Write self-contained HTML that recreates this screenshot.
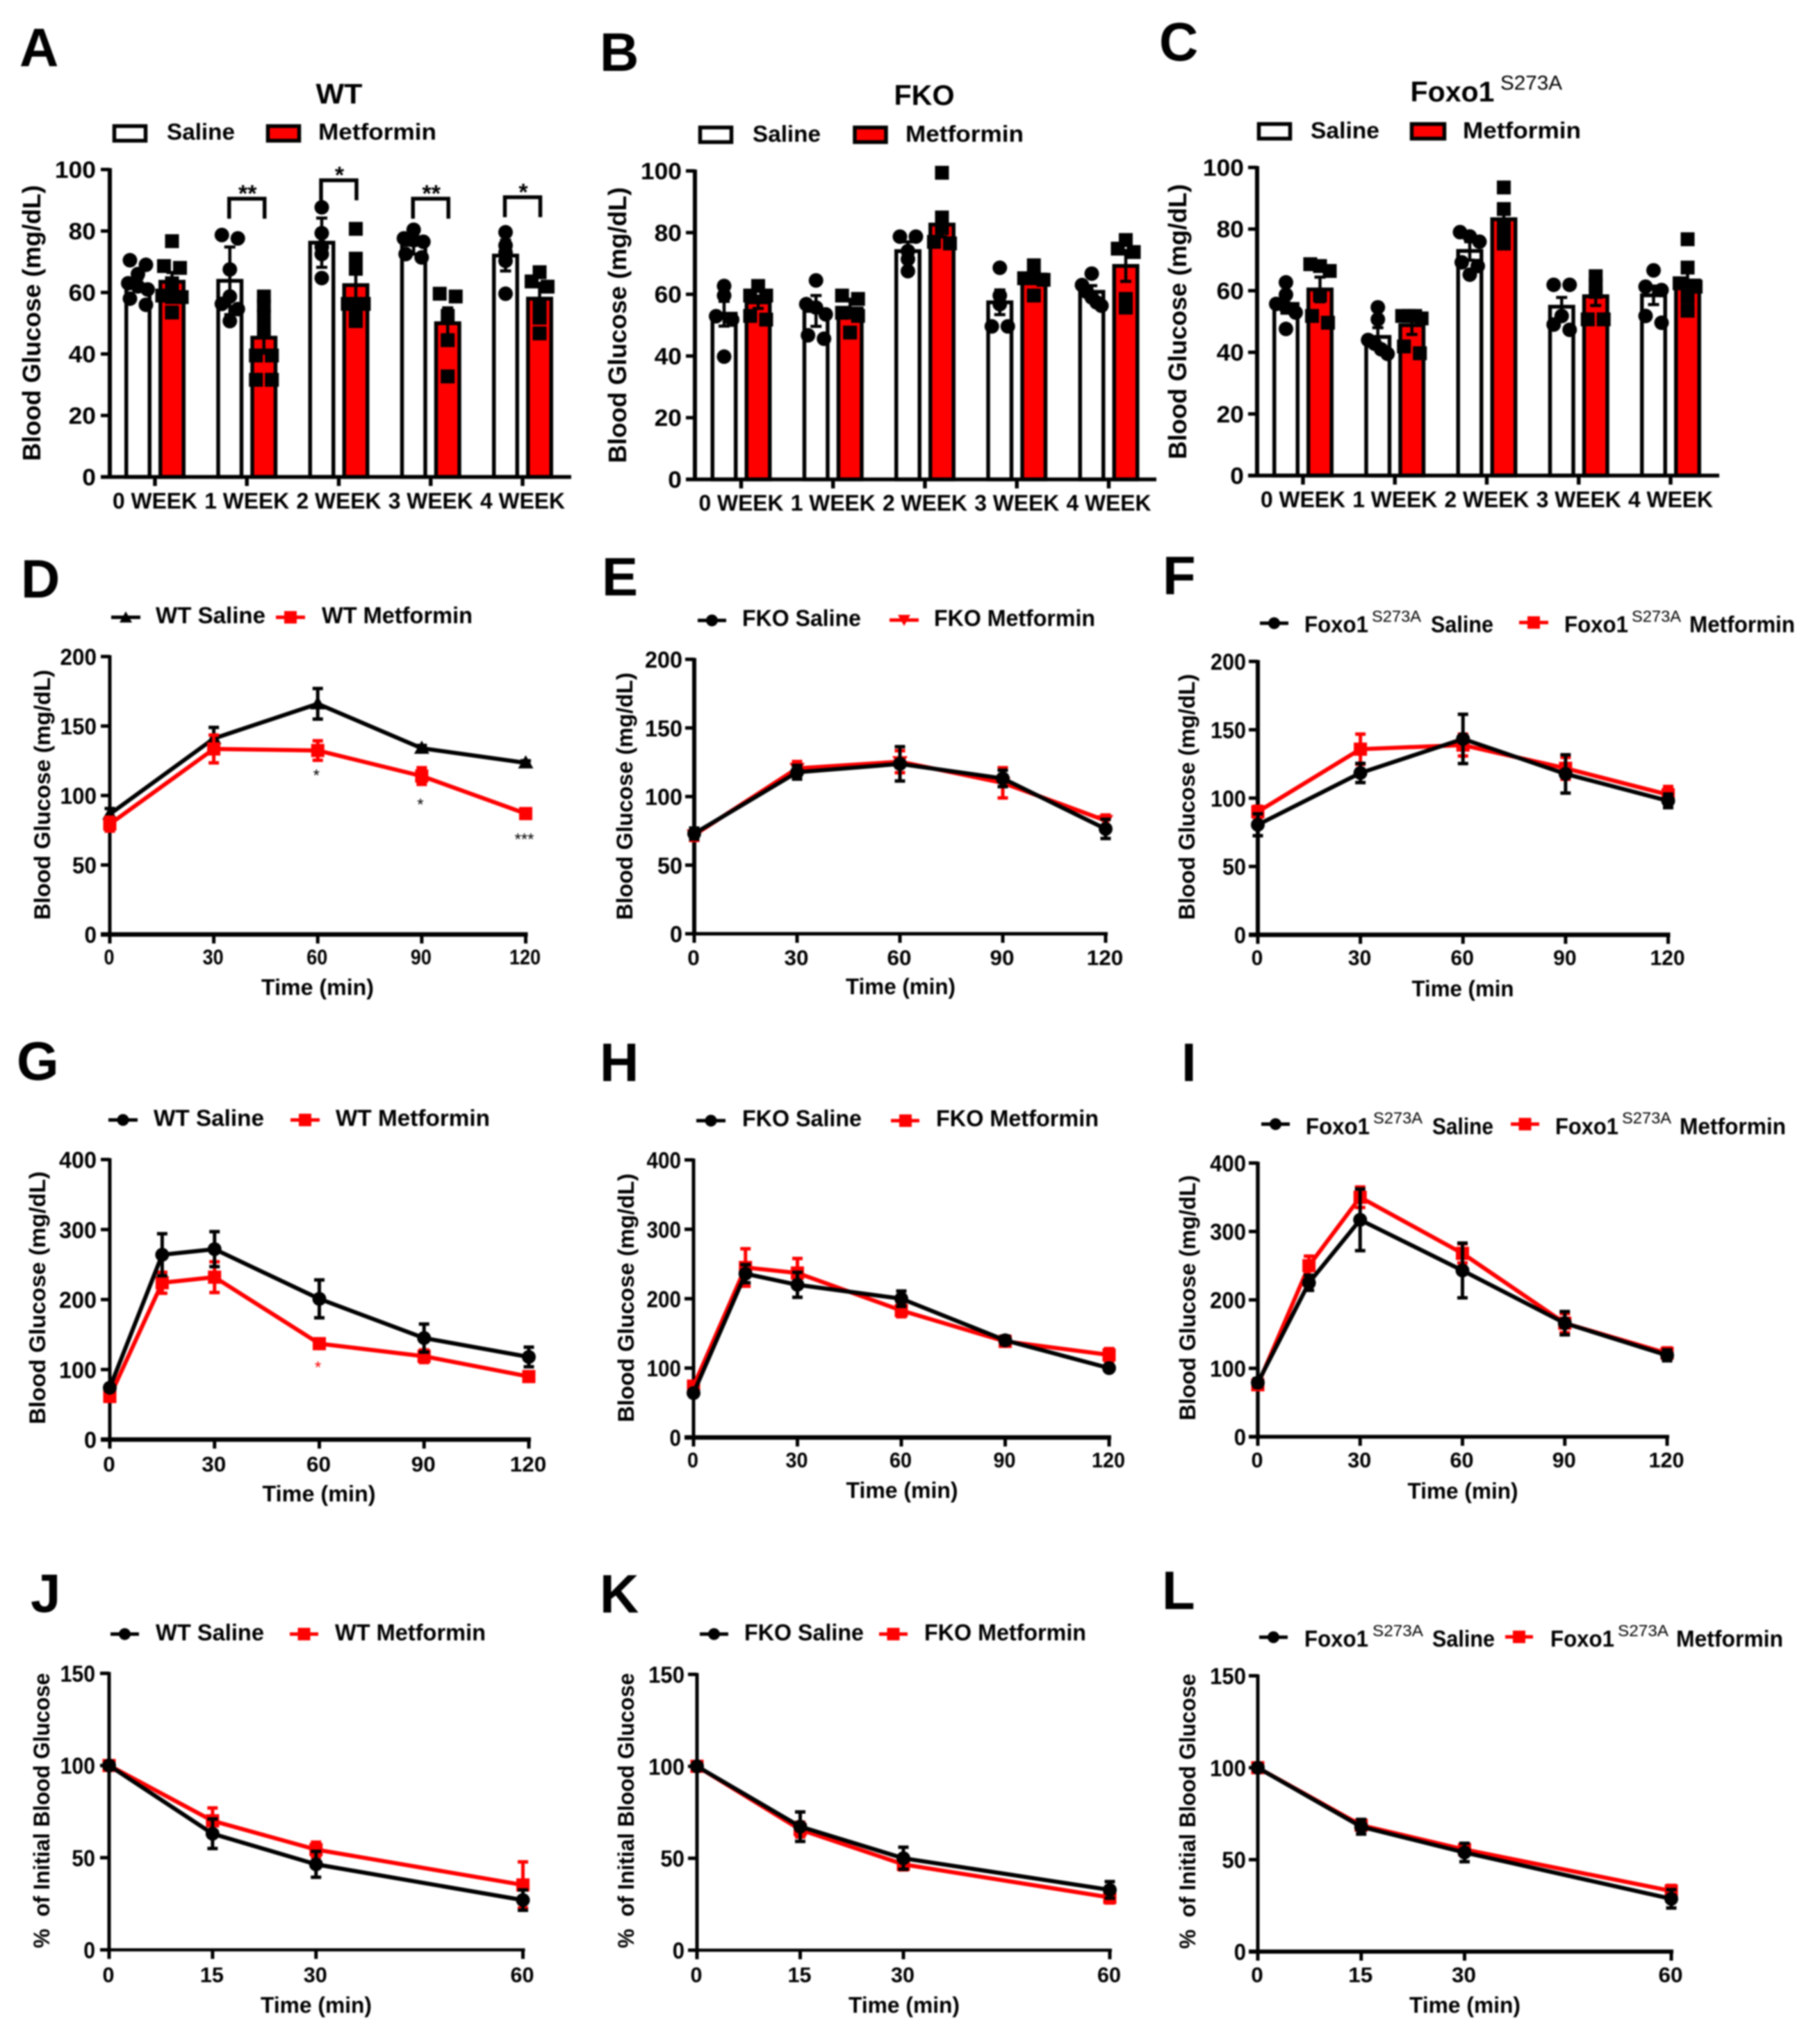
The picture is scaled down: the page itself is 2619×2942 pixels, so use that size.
<!DOCTYPE html>
<html lang="en">
<head>
<meta charset="utf-8">
<title>Blood glucose panels</title>
<style>
html,body{margin:0;padding:0;background:#fff}
svg{display:block;filter:blur(1px)}
text{font-family:"Liberation Sans",sans-serif;fill:#000}
.letter{font-size:78px;font-weight:700}
.title{font-size:41px;font-weight:700;text-anchor:middle}
.lg{font-size:33px;font-weight:700}
.sup{font-size:23px;font-weight:400}
.tsup{font-size:29px;font-weight:400}
.axt{font-size:32px;font-weight:700;text-anchor:middle;white-space:pre}
.axb{font-size:36px}
</style>
</head>
<body>
<svg id="figure" width="2619" height="2942" viewBox="0 0 2619 2942">
<rect x="0" y="0" width="2619" height="2942" fill="#fff"/>

<!-- Panel A -->
<g>
<text class="letter" x="28" y="95">A</text>
<text class="title" x="488" y="149" textLength="67" lengthAdjust="spacingAndGlyphs">WT</text>
<g><rect x="164.5" y="181.5" width="45" height="21" fill="#fff" stroke="#000" stroke-width="5.5"/><text class="lg" x="240" y="201" textLength="98" lengthAdjust="spacingAndGlyphs">Saline</text></g>
<g><rect x="385.5" y="181.5" width="45" height="21" fill="#f00" stroke="#000" stroke-width="5.5"/><text class="lg" x="458" y="201" textLength="170" lengthAdjust="spacingAndGlyphs">Metformin</text></g>
<text class="axt axb" transform="rotate(-90 58 465)" x="58" y="465" textLength="397" lengthAdjust="spacingAndGlyphs">Blood Glucose (mg/dL)</text>
<g id="plot-a"></g>
</g>

<!-- Panel B -->
<g>
<text class="letter" x="863" y="102">B</text>
<text class="title" x="1330" y="151" textLength="87" lengthAdjust="spacingAndGlyphs">FKO</text>
<g><rect x="1007.5" y="183.5" width="45" height="21" fill="#fff" stroke="#000" stroke-width="5.5"/><text class="lg" x="1083" y="204" textLength="98" lengthAdjust="spacingAndGlyphs">Saline</text></g>
<g><rect x="1230" y="183.5" width="45" height="21" fill="#f00" stroke="#000" stroke-width="5.5"/><text class="lg" x="1303" y="204" textLength="170" lengthAdjust="spacingAndGlyphs">Metformin</text></g>
<text class="axt axb" transform="rotate(-90 901 468)" x="901" y="468" textLength="397" lengthAdjust="spacingAndGlyphs">Blood Glucose (mg/dL)</text>
<g id="plot-b"></g>
</g>

<!-- Panel C -->
<g>
<text class="letter" x="1668" y="87">C</text>
<text class="title" x="2090" y="146" textLength="121" lengthAdjust="spacingAndGlyphs">Foxo1</text>
<text class="tsup" x="2159" y="129" textLength="89" lengthAdjust="spacingAndGlyphs">S273A</text>
<g><rect x="1811.5" y="178.5" width="45" height="21" fill="#fff" stroke="#000" stroke-width="5.5"/><text class="lg" x="1886" y="199" textLength="99" lengthAdjust="spacingAndGlyphs">Saline</text></g>
<g><rect x="2031.5" y="178.5" width="47" height="21" fill="#f00" stroke="#000" stroke-width="5.5"/><text class="lg" x="2105" y="199" textLength="170" lengthAdjust="spacingAndGlyphs">Metformin</text></g>
<text class="axt axb" transform="rotate(-90 1707 463)" x="1707" y="463" textLength="396" lengthAdjust="spacingAndGlyphs">Blood Glucose (mg/dL)</text>
<g id="plot-c"></g>
</g>

<!-- Panel D -->
<g>
<text class="letter" x="30" y="860">D</text>
<g><line x1="160" y1="888.5" x2="202" y2="888.5" stroke="#000" stroke-width="5"/><polygon points="181,880 190,896 172,896" fill="#000"/><text class="lg" x="224" y="897" textLength="158" lengthAdjust="spacingAndGlyphs">WT Saline</text></g>
<g><line x1="397" y1="888.5" x2="439" y2="888.5" stroke="#f00" stroke-width="5"/><rect x="409" y="879.5" width="18" height="18" fill="#f00"/><text class="lg" x="463" y="897" textLength="217" lengthAdjust="spacingAndGlyphs">WT Metformin</text></g>
<text class="axt" transform="rotate(-90 72 1144)" x="72" y="1144" textLength="360" lengthAdjust="spacingAndGlyphs">Blood Glucose (mg/dL)</text>
<text class="axt" x="457" y="1432" textLength="162" lengthAdjust="spacingAndGlyphs">Time (min)</text>
<g id="plot-d"></g>
</g>

<!-- Panel E -->
<g>
<text class="letter" x="866" y="857">E</text>
<g><line x1="1004" y1="893" x2="1045" y2="893" stroke="#000" stroke-width="5"/><circle cx="1024.5" cy="893" r="8.5" fill="#000"/><text class="lg" x="1068" y="901" textLength="171" lengthAdjust="spacingAndGlyphs">FKO Saline</text></g>
<g><line x1="1280" y1="892.5" x2="1322" y2="892.5" stroke="#f00" stroke-width="5"/><polygon points="1292,885 1310,885 1301,901" fill="#f00"/><text class="lg" x="1344" y="901" textLength="232" lengthAdjust="spacingAndGlyphs">FKO Metformin</text></g>
<text class="axt" transform="rotate(-90 910 1146)" x="910" y="1146" textLength="356" lengthAdjust="spacingAndGlyphs">Blood Glucose (mg/dL)</text>
<text class="axt" x="1296" y="1431" textLength="158" lengthAdjust="spacingAndGlyphs">Time (min)</text>
<g id="plot-e"></g>
</g>

<!-- Panel F -->
<g>
<text class="letter" x="1673" y="855">F</text>
<g><line x1="1813" y1="897" x2="1854" y2="897" stroke="#000" stroke-width="5"/><circle cx="1833.5" cy="897" r="8.5" fill="#000"/><text class="lg" x="1877" y="910" textLength="92" lengthAdjust="spacingAndGlyphs">Foxo1</text><text class="sup" x="1974" y="895" textLength="71" lengthAdjust="spacingAndGlyphs">S273A</text><text class="lg" x="2059" y="910" textLength="90" lengthAdjust="spacingAndGlyphs">Saline</text></g>
<g><line x1="2186" y1="896" x2="2228" y2="896" stroke="#f00" stroke-width="5"/><rect x="2198" y="887" width="18" height="18" fill="#f00"/><text class="lg" x="2251" y="910" textLength="92" lengthAdjust="spacingAndGlyphs">Foxo1</text><text class="sup" x="2348" y="895" textLength="71" lengthAdjust="spacingAndGlyphs">S273A</text><text class="lg" x="2431" y="910" textLength="152" lengthAdjust="spacingAndGlyphs">Metformin</text></g>
<text class="axt" transform="rotate(-90 1719 1147)" x="1719" y="1147" textLength="354" lengthAdjust="spacingAndGlyphs">Blood Glucose (mg/dL)</text>
<text class="axt" x="2105" y="1434" textLength="147" lengthAdjust="spacingAndGlyphs">Time (min</text>
<g id="plot-f"></g>
</g>

<!-- Panel G -->
<g>
<text class="letter" x="24" y="1554">G</text>
<g><line x1="156" y1="1612" x2="198" y2="1612" stroke="#000" stroke-width="5"/><circle cx="177" cy="1612" r="8.5" fill="#000"/><text class="lg" x="221" y="1620.5" textLength="159" lengthAdjust="spacingAndGlyphs">WT Saline</text></g>
<g><line x1="418" y1="1612" x2="460" y2="1612" stroke="#f00" stroke-width="5"/><rect x="430" y="1603" width="18" height="18" fill="#f00"/><text class="lg" x="483" y="1620.5" textLength="222" lengthAdjust="spacingAndGlyphs">WT Metformin</text></g>
<text class="axt" transform="rotate(-90 65 1868)" x="65" y="1868" textLength="364" lengthAdjust="spacingAndGlyphs">Blood Glucose (mg/dL)</text>
<text class="axt" x="459" y="2161" textLength="163" lengthAdjust="spacingAndGlyphs">Time (min)</text>
<g id="plot-g"></g>
</g>

<!-- Panel H -->
<g>
<text class="letter" x="863" y="1556">H</text>
<g><line x1="1002" y1="1613" x2="1044" y2="1613" stroke="#000" stroke-width="5"/><circle cx="1023" cy="1613" r="8.5" fill="#000"/><text class="lg" x="1068" y="1621" textLength="172" lengthAdjust="spacingAndGlyphs">FKO Saline</text></g>
<g><line x1="1282" y1="1613" x2="1323" y2="1613" stroke="#f00" stroke-width="5"/><rect x="1294" y="1604" width="18" height="18" fill="#f00"/><text class="lg" x="1347" y="1621" textLength="234" lengthAdjust="spacingAndGlyphs">FKO Metformin</text></g>
<text class="axt" transform="rotate(-90 912 1868)" x="912" y="1868" textLength="358" lengthAdjust="spacingAndGlyphs">Blood Glucose (mg/dL)</text>
<text class="axt" x="1298" y="2156" textLength="161" lengthAdjust="spacingAndGlyphs">Time (min)</text>
<g id="plot-h"></g>
</g>

<!-- Panel I -->
<g>
<text class="letter" x="1700" y="1556">I</text>
<g><line x1="1815" y1="1618" x2="1856" y2="1618" stroke="#000" stroke-width="5"/><circle cx="1835.5" cy="1618" r="8.5" fill="#000"/><text class="lg" x="1879" y="1632.5" textLength="92" lengthAdjust="spacingAndGlyphs">Foxo1</text><text class="sup" x="1976" y="1617" textLength="71" lengthAdjust="spacingAndGlyphs">S273A</text><text class="lg" x="2061" y="1632.5" textLength="88" lengthAdjust="spacingAndGlyphs">Saline</text></g>
<g><line x1="2174" y1="1618" x2="2215" y2="1618" stroke="#f00" stroke-width="5"/><rect x="2185.5" y="1609" width="18" height="18" fill="#f00"/><text class="lg" x="2238" y="1632.5" textLength="91" lengthAdjust="spacingAndGlyphs">Foxo1</text><text class="sup" x="2334" y="1617" textLength="71" lengthAdjust="spacingAndGlyphs">S273A</text><text class="lg" x="2417" y="1632.5" textLength="153" lengthAdjust="spacingAndGlyphs">Metformin</text></g>
<text class="axt" transform="rotate(-90 1720 1868)" x="1720" y="1868" textLength="353" lengthAdjust="spacingAndGlyphs">Blood Glucose (mg/dL)</text>
<text class="axt" x="2105" y="2157" textLength="159" lengthAdjust="spacingAndGlyphs">Time (min)</text>
<g id="plot-i"></g>
</g>

<!-- Panel J -->
<g>
<text class="letter" x="44" y="2320">J</text>
<g><line x1="159" y1="2352" x2="200" y2="2352" stroke="#000" stroke-width="5"/><circle cx="179.5" cy="2352" r="8.5" fill="#000"/><text class="lg" x="224" y="2361" textLength="156" lengthAdjust="spacingAndGlyphs">WT Saline</text></g>
<g><line x1="417" y1="2352" x2="458" y2="2352" stroke="#f00" stroke-width="5"/><rect x="428.5" y="2343" width="18" height="18" fill="#f00"/><text class="lg" x="482" y="2361" textLength="217" lengthAdjust="spacingAndGlyphs">WT Metformin</text></g>
<text class="axt" transform="rotate(-90 71 2606)" x="71" y="2606" textLength="396" lengthAdjust="spacingAndGlyphs">%  of Initial Blood Glucose</text>
<text class="axt" x="455" y="2897" textLength="160" lengthAdjust="spacingAndGlyphs">Time (min)</text>
<g id="plot-j"></g>
</g>

<!-- Panel K -->
<g>
<text class="letter" x="863" y="2321">K</text>
<g><line x1="1007" y1="2352" x2="1048" y2="2352" stroke="#000" stroke-width="5"/><circle cx="1027.5" cy="2352" r="8.5" fill="#000"/><text class="lg" x="1071" y="2361" textLength="172" lengthAdjust="spacingAndGlyphs">FKO Saline</text></g>
<g><line x1="1265" y1="2352" x2="1306" y2="2352" stroke="#f00" stroke-width="5"/><rect x="1276.5" y="2343" width="18" height="18" fill="#f00"/><text class="lg" x="1330" y="2361" textLength="233" lengthAdjust="spacingAndGlyphs">FKO Metformin</text></g>
<text class="axt" transform="rotate(-90 912 2606)" x="912" y="2606" textLength="396" lengthAdjust="spacingAndGlyphs">%  of Initial Blood Glucose</text>
<text class="axt" x="1301" y="2897" textLength="160" lengthAdjust="spacingAndGlyphs">Time (min)</text>
<g id="plot-k"></g>
</g>

<!-- Panel L -->
<g>
<text class="letter" x="1672" y="2316">L</text>
<g><line x1="1812" y1="2356.5" x2="1853" y2="2356.5" stroke="#000" stroke-width="5"/><circle cx="1832.5" cy="2356.5" r="8.5" fill="#000"/><text class="lg" x="1877" y="2370" textLength="92" lengthAdjust="spacingAndGlyphs">Foxo1</text><text class="sup" x="1975" y="2355" textLength="73" lengthAdjust="spacingAndGlyphs">S273A</text><text class="lg" x="2061" y="2370" textLength="90" lengthAdjust="spacingAndGlyphs">Saline</text></g>
<g><line x1="2166" y1="2356" x2="2206" y2="2356" stroke="#f00" stroke-width="5"/><rect x="2177" y="2347" width="18" height="18" fill="#f00"/><text class="lg" x="2231" y="2370" textLength="92" lengthAdjust="spacingAndGlyphs">Foxo1</text><text class="sup" x="2328" y="2355" textLength="73" lengthAdjust="spacingAndGlyphs">S273A</text><text class="lg" x="2412" y="2370" textLength="154" lengthAdjust="spacingAndGlyphs">Metformin</text></g>
<text class="axt" transform="rotate(-90 1720 2607)" x="1720" y="2607" textLength="396" lengthAdjust="spacingAndGlyphs">%  of Initial Blood Glucose</text>
<text class="axt" x="2108" y="2897" textLength="160" lengthAdjust="spacingAndGlyphs">Time (min)</text>
<g id="plot-l"></g>
</g>
</svg>

<script>
/* ---------- shared axis data ---------- */
const weekLabels = ['0 WEEK', '1 WEEK', '2 WEEK', '3 WEEK', '4 WEEK'];
const barYTicks = [0, 20, 40, 60, 80, 100];
const gttYTicks = [0, 50, 100, 150, 200];
const ogttYTicks = [0, 100, 200, 300, 400];
const ittYTicks = [0, 50, 100, 150];
const gttTimes = [0, 30, 60, 90, 120];
const ogttTimes = [0, 15, 30, 60, 90, 120];
const ogttXTicks = [0, 30, 60, 90, 120];
const ittTimes = [0, 15, 30, 60];

/* ---------- panel A ---------- */
const aSalineMeans = [62.5, 63.8, 76.2, 75.5, 72];
const aSalineErr = [2, 11, 8, 3, 5];
const aSalinePoints = [
  [62, 56, 61, 66, 70.5, 69, 63, 58],
  [58.7, 78.7, 77.6, 67.5, 56.3, 54.6, 50.7],
  [87.7, 79.3, 74.8, 72.5, 64.7],
  [80.4, 77.6, 77, 76.5, 72.5, 71.4],
  [79.6, 75.3, 73, 70.3, 59.6]
];
const aMetforminMeans = [63.5, 45.3, 62.4, 50, 58];
const aMetforminErr = [3, 5, 8, 5, 5];
const aMetforminPoints = [
  [76.7, 68.6, 68, 63, 59, 58.5, 58.5, 53.5],
  [58.7, 55.7, 52.4, 47.9, 39.5, 39.5, 31.6, 31.6],
  [80.7, 71, 67.7, 56.3, 56.3, 54, 50.7],
  [59.6, 58.7, 52.4, 44.5, 32.7],
  [66.6, 63.6, 61.9, 55.7, 51.8, 46.7]
];
const aBracketTops = [null, 90.5, 96.5, 90.5, 91];
const aSigLabels = ['', '**', '*', '**', '*'];

/* ---------- panel B ---------- */
const bSalineMeans = [53.7, 54.6, 74, 57.4, 60.8];
const bSalineErr = [4, 5, 3, 4, 2];
const bSalinePoints = [
  [62.7, 59.6, 52.9, 51.8, 39.8],
  [64.5, 56.8, 55.7, 53.5, 46.7, 45.6],
  [78.7, 78.7, 74, 71.4, 67.5],
  [68.6, 59.6, 56.8, 49.6, 49.6],
  [66.7, 63, 60.8, 59, 57.4, 56.3]
];
const bMetforminMeans = [57.4, 55.4, 82.6, 66.4, 69.2];
const bMetforminErr = [2, 3, 4, 2, 5];
const bMetforminPoints = [
  [62.7, 59.6, 59.6, 53, 51.8],
  [59.6, 58.5, 54, 53, 47.6],
  [99.4, 84.9, 81.5, 77, 76.5],
  [69.4, 65.2, 65.2, 64.7, 59.6],
  [77.6, 74.8, 73.7, 58.5, 55.7]
];

/* ---------- panel C ---------- */
const cSalineMeans = [55.7, 45, 72.9, 54.8, 58.5];
const cSalineErr = [3, 3, 3, 3, 3];
const cSalinePoints = [
  [62.7, 58.7, 55.7, 54.6, 52.9, 47.6],
  [54.6, 50.7, 44, 42.8, 41, 39.5],
  [79, 77.6, 75.9, 69.2, 68, 65.2],
  [61.9, 61.9, 51.8, 49, 47.3],
  [66.6, 61.3, 60.2, 51.8, 49.6]
];
const cMetforminMeans = [60.4, 48.8, 83.2, 58.2, 63.3];
const cMetforminErr = [4, 3, 3, 3, 4];
const cMetforminPoints = [
  [68.6, 68, 66.4, 58.5, 51.8, 49.6],
  [51.8, 51.8, 51.8, 51, 41.9, 39.7],
  [93.5, 86.5, 81, 78.1, 75.3],
  [64.7, 61.9, 59.6, 50.7, 50.7],
  [76.7, 67.5, 62.4, 61.3, 58, 53.5]
];

/* ---------- panels D, E, F ---------- */
const dSaline = [86.6, 141, 166, 134, 123.5];
const dSalineErr = [4, 8, 11, 2, 1.5];
const dMetformin = [79.4, 133.5, 132.4, 114, 87];
const dMetforminErr = [5, 10, 7, 6, 3];
const dSigLabels = ['', '', '*', '*', '***'];
const dSigValues = [null, null, 117, 96, 71];

const eSaline = [73, 117.7, 123.8, 113.2, 76.4];
const eSalineErr = [4, 5, 12.5, 6, 7];
const eMetformin = [72, 120.5, 125.4, 110, 82.5];
const eMetforminErr = [4, 5, 8, 11, 4];

const fSaline = [80.5, 118.4, 143.3, 117.7, 98];
const fSalineErr = [8, 7, 18, 14, 5];
const fMetformin = [90, 135.8, 138.8, 121.8, 102.5];
const fMetforminErr = [4, 11, 8, 8, 6];

/* ---------- panels G, H, I ---------- */
const gSaline = [74, 264, 272, 201, 145, 118];
const gSaline_Err = [4, 30, 25, 27, 20, 14];
const gMetformin = [61.5, 224, 232, 137, 119, 90];
const gMetforminErr = [4, 15, 22, 6, 9, 6];
const gSigLabels = ['', '', '', '*', '', ''];
const gSigValues = [null, null, null, 108, null, null];

const hSaline = [64, 236, 220, 200, 140, 100];
const hSalineErr = [4, 13, 18, 11, 6, 4];
const hMetformin = [74, 245, 237, 183, 138.5, 119];
const hMetforminErr = [5, 27, 21, 9, 7, 9];

const iSaline = [79, 225, 317, 243, 166, 119];
const iSalineErr = [6, 11, 45, 40, 17, 8];
const iMetformin = [76, 250, 350, 268, 166, 122];
const iMetforminErr = [6, 14, 15, 14, 14, 8];

/* ---------- panels J, K, L ---------- */
const jSaline = [100, 63, 46.4, 27];
const jSalineErr = [1, 8, 7, 5.5];
const jMetformin = [100, 70, 54.4, 35.2];
const jMetforminErr = [1, 7, 4, 12.5];

const kSaline = [100, 67.2, 50, 32.8];
const kSalineErr = [1, 8, 6, 4.5];
const kMetformin = [100, 65.6, 46.7, 28.7];
const kMetforminErr = [1, 4, 3, 3];

const lSaline = [100, 67.9, 53.9, 28.7];
const lSalineErr = [1, 4, 5, 5];
const lMetformin = [100, 68.7, 55.5, 33];
const lMetforminErr = [1, 2, 3, 3];

/* ---------- helpers ---------- */
const svgRoot = document.getElementById('figure');
const NS = svgRoot.namespaceURI;

function mk(parent, tag, attrs, text) {
  const node = document.createElementNS(NS, tag);
  for (const key in attrs) node.setAttribute(key, attrs[key]);
  if (text !== undefined) node.textContent = text;
  parent.appendChild(node);
  return node;
}
function linearScale(d0, d1, r0, r1) {
  return function (v) { return r0 + (v - d0) * (r1 - r0) / (d1 - d0); };
}
function linePath(x1, y1, x2, y2) {
  return 'M' + x1 + ' ' + y1 + 'L' + x2 + ' ' + y2;
}
function errorPath(x, yLo, yHi, capHalf) {
  return linePath(x, yLo, x, yHi) + linePath(x - capHalf, yLo, x + capHalf, yLo) + linePath(x - capHalf, yHi, x + capHalf, yHi);
}
/* Prism-style scatter: points close in value are spread symmetrically around the bar centre */
function swarmOffsets(values, sy) {
  const order = values.map(function (v, i) { return i; }).sort(function (a, b) { return values[b] - values[a]; });
  const offsets = values.map(function () { return 0; });
  let cluster = [];
  function flush() {
    const n = cluster.length;
    if (n > 1) {
      const spacing = n === 2 ? 23 : 28 / (n - 1);
      cluster.forEach(function (idx, k) { offsets[idx] = (k - (n - 1) / 2) * spacing; });
    }
    cluster = [];
  }
  order.forEach(function (idx) {
    if (cluster.length && Math.abs(sy(values[idx]) - sy(values[cluster[cluster.length - 1]])) > 10) flush();
    cluster.push(idx);
  });
  flush();
  return offsets;
}

function drawYAxis(plot, cfg, sy, ticks) {
  const axis = mk(plot, 'line', { x1: cfg.axisX, y1: sy(cfg.yMax) - 2, x2: cfg.axisX, y2: cfg.y0 + 2, stroke: '#000', 'stroke-width': cfg.leftW });
  
  
  ticks.forEach(function (t) {
    const y = sy(t);
    const tick = mk(plot, 'line', { x1: cfg.axisX - 13, y1: y, x2: cfg.axisX, y2: y, stroke: '#000', 'stroke-width': 5 });
    
    
    const label = mk(plot, 'text', { x: cfg.axisX + cfg.yLabelDx, y: y + 12, 'text-anchor': 'end', 'font-size': cfg.yFont || 33, 'font-weight': 700, textLength: String(t).length * cfg.yCharW, lengthAdjust: 'spacingAndGlyphs' }, String(t));
    
    
  });
}

/* ---------- bar panels ---------- */
function drawBarPanel(id, cfg, salMeans, salErr, salPts, metMeans, metErr, metPts, brackets, sigs) {
  const plot = document.getElementById(id);
  const sy = linearScale(0, cfg.yMax, cfg.y0, cfg.yTop);
  const sx = function (i) { return cfg.tick0 + i * cfg.tickStep; };
  const halfGap = 24.5;
  const barW = 33.5;

  function drawGroup(i, cx, mean, err, pts, isMet) {
    const top = sy(mean);
    const bar = mk(plot, 'rect', { x: cx - barW / 2, y: top, width: barW, height: cfg.y0 - top, fill: isMet ? '#f00' : '#fff', stroke: '#000', 'stroke-width': 5.5 });
    
    
    const eb = mk(plot, 'path', { d: errorPath(cx, sy(mean - err), sy(mean + err), 8), stroke: '#000', 'stroke-width': 4.5, fill: 'none' });
    
    
    const offsets = swarmOffsets(pts, sy);
    pts.forEach(function (v, k) {
      const px = cx + offsets[k];
      const py = sy(v);
      const dot = isMet
        ? mk(plot, 'rect', { x: px - 10, y: py - 10, width: 20, height: 20, fill: '#000' })
        : mk(plot, 'circle', { cx: px, cy: py, r: 10.5, fill: '#000' });
      
      
    });
  }

  weekLabels.forEach(function (w, i) {
    drawGroup(i, sx(i) - halfGap, salMeans[i], salErr[i], salPts[i], false);
    drawGroup(i, sx(i) + halfGap, metMeans[i], metErr[i], metPts[i], true);
  });

  drawYAxis(plot, cfg, sy, barYTicks);

  const base = mk(plot, 'line', { x1: cfg.left, y1: cfg.y0, x2: cfg.right, y2: cfg.y0, stroke: '#000', 'stroke-width': 5.5 });
  
  

  weekLabels.forEach(function (w, i) {
    const tick = mk(plot, 'line', { x1: sx(i), y1: cfg.y0, x2: sx(i), y2: cfg.y0 + 13, stroke: '#000', 'stroke-width': 5.5 });
    
    
    const label = mk(plot, 'text', { x: sx(i), y: cfg.labelY, 'text-anchor': 'middle', 'font-size': 32, 'font-weight': 700, textLength: 122, lengthAdjust: 'spacingAndGlyphs' }, w);
    
    
  });

  if (brackets) {
    brackets.forEach(function (b, i) {
      if (b === null) return;
      const topY = sy(b);
      const legY = sy(b - 6.5);
      const xl = sx(i) - halfGap - 1;
      const xr = sx(i) + halfGap + 1;
      const br = mk(plot, 'path', { d: 'M' + xl + ' ' + legY + 'V' + topY + 'H' + xr + 'V' + legY, fill: 'none', stroke: '#000', 'stroke-width': 5.5 });
      
      
      const star = mk(plot, 'text', { x: sx(i) + 1, y: topY + 4, 'text-anchor': 'middle', 'font-size': 34, 'font-weight': 700 }, sigs[i]);
      
      
    });
  }
}

/* ---------- line panels ---------- */
function drawSeries(plot, sx, sy, times, vals, errs, color, shape) {
  const pts = times.map(function (t, i) { return sx(t) + ',' + sy(vals[i]); }).join(' ');
  times.forEach(function (t, i) {
    const eb = mk(plot, 'path', { d: errorPath(sx(t), sy(vals[i] - errs[i]), sy(vals[i] + errs[i]), 7.5), stroke: color, 'stroke-width': 5, fill: 'none' });
    
    
  });
  const line = mk(plot, 'polyline', { points: pts, fill: 'none', stroke: color, 'stroke-width': 6, 'stroke-linejoin': 'round' });
  
  
  times.forEach(function (t, i) {
    const x = sx(t);
    const y = sy(vals[i]);
    let marker;
    if (shape === 'circle') {
      marker = mk(plot, 'circle', { cx: x, cy: y, r: 10, fill: color });
    } else if (shape === 'square') {
      marker = mk(plot, 'rect', { x: x - 9.5, y: y - 9.5, width: 19, height: 19, fill: color });
    } else if (shape === 'tri') {
      marker = mk(plot, 'polygon', { points: (x) + ',' + (y - 11) + ' ' + (x + 11) + ',' + (y + 8) + ' ' + (x - 11) + ',' + (y + 8), fill: color });
    } else {
      marker = mk(plot, 'polygon', { points: (x - 11) + ',' + (y - 8) + ' ' + (x + 11) + ',' + (y - 8) + ' ' + (x) + ',' + (y + 11), fill: color });
    }
    
    
  });
}

function drawLinePanel(id, cfg, times, xTicks, yTicks, salVals, salErrs, metVals, metErrs, sigLabels, sigValues) {
  const plot = document.getElementById(id);
  const sx = linearScale(0, cfg.xMax, cfg.axisX, cfg.xEnd);
  const sy = linearScale(0, cfg.yMax, cfg.y0, cfg.yTop);

  drawYAxis(plot, cfg, sy, yTicks);

  const base = mk(plot, 'line', { x1: cfg.axisX - 13, y1: cfg.y0, x2: cfg.xEnd + 3, y2: cfg.y0, stroke: '#000', 'stroke-width': cfg.bottomW });
  
  

  xTicks.forEach(function (t) {
    const tick = mk(plot, 'line', { x1: sx(t), y1: cfg.y0, x2: sx(t), y2: cfg.y0 + 13, stroke: '#000', 'stroke-width': 5 });
    
    
    const label = mk(plot, 'text', { x: sx(t) - 1, y: cfg.tickY, 'text-anchor': 'middle', 'font-size': 31, 'font-weight': 700, textLength: String(t).length * cfg.xCharW, lengthAdjust: 'spacingAndGlyphs' }, String(t));
    
    
  });

  if (cfg.redOnTop) {
    drawSeries(plot, sx, sy, times, salVals, salErrs, '#000', cfg.salineShape);
    drawSeries(plot, sx, sy, times, metVals, metErrs, '#f00', cfg.metShape);
  } else {
    drawSeries(plot, sx, sy, times, metVals, metErrs, '#f00', cfg.metShape);
    drawSeries(plot, sx, sy, times, salVals, salErrs, '#000', cfg.salineShape);
  }

  if (sigLabels) {
    sigLabels.forEach(function (s, i) {
      if (!s) return;
      const star = mk(plot, 'text', { x: sx(times[i]) - 2, y: sy(sigValues[i]) + 13, 'text-anchor': 'middle', 'font-size': 24, 'font-weight': 400 }, s);
      
      
      if (cfg.sigColor) star.style.fill = cfg.sigColor;
    });
  }
}

/* ---------- layout (positions live here, values above) ---------- */
drawBarPanel('plot-a', { axisX: 158, left: 145, right: 822, yMax: 100, yTop: 244, y0: 686.5, tick0: 223, tickStep: 132.25, labelY: 732, leftW: 6, yLabelDx: -20, yCharW: 19.7, yFont: 34 },
  aSalineMeans, aSalineErr, aSalinePoints, aMetforminMeans, aMetforminErr, aMetforminPoints, aBracketTops, aSigLabels);
drawBarPanel('plot-b', { axisX: 1000, left: 987, right: 1664, yMax: 100, yTop: 246, y0: 690, tick0: 1066.5, tickStep: 132.25, labelY: 735, leftW: 6, yLabelDx: -19, yCharW: 19.7, yFont: 34 },
  bSalineMeans, bSalineErr, bSalinePoints, bMetforminMeans, bMetforminErr, bMetforminPoints, null, null);
drawBarPanel('plot-c', { axisX: 1809, left: 1796, right: 2474, yMax: 100, yTop: 241, y0: 684.5, tick0: 1875, tickStep: 132.25, labelY: 730, leftW: 6, yLabelDx: -19, yCharW: 19.7, yFont: 34 },
  cSalineMeans, cSalineErr, cSalinePoints, cMetforminMeans, cMetforminErr, cMetforminPoints, null, null);

drawLinePanel('plot-d', { axisX: 158, xEnd: 756.5, xMax: 120, yMax: 200, yTop: 945, y0: 1345, bottomW: 6.5, leftW: 5, tickY: 1388, xCharW: 15, yLabelDx: -19, yCharW: 17.5, salineShape: 'tri', metShape: 'square', redOnTop: true },
  gttTimes, gttTimes, gttYTicks, dSaline, dSalineErr, dMetformin, dMetforminErr, dSigLabels, dSigValues);
drawLinePanel('plot-e', { axisX: 999, xEnd: 1591, xMax: 120, yMax: 200, yTop: 949, y0: 1344, bottomW: 5, leftW: 6, tickY: 1389, xCharW: 17.5, yLabelDx: -17, yCharW: 18, salineShape: 'circle', metShape: 'tridown', redOnTop: false },
  gttTimes, gttTimes, gttYTicks, eSaline, eSalineErr, eMetformin, eMetforminErr);
drawLinePanel('plot-f', { axisX: 1810, xEnd: 2400.5, xMax: 120, yMax: 200, yTop: 952, y0: 1345.5, bottomW: 6.5, leftW: 6, tickY: 1389, xCharW: 16.7, yLabelDx: -17, yCharW: 17, salineShape: 'circle', metShape: 'square', redOnTop: false },
  gttTimes, gttTimes, gttYTicks, fSaline, fSalineErr, fMetformin, fMetforminErr);

drawLinePanel('plot-g', { axisX: 158, xEnd: 761, xMax: 120, yMax: 400, yTop: 1669, y0: 2072, bottomW: 6.5, leftW: 5, tickY: 2118, xCharW: 17.5, yLabelDx: -19, yCharW: 18, salineShape: 'circle', metShape: 'square', redOnTop: false, sigColor: '#f00' },
  ogttTimes, ogttXTicks, ogttYTicks, gSaline, gSaline_Err, gMetformin, gMetforminErr, gSigLabels, gSigValues);
drawLinePanel('plot-h', { axisX: 998, xEnd: 1596, xMax: 120, yMax: 400, yTop: 1669.5, y0: 2069, bottomW: 6.5, leftW: 5, tickY: 2112, xCharW: 16, yLabelDx: -18, yCharW: 16.5, salineShape: 'circle', metShape: 'square', redOnTop: false },
  ogttTimes, ogttXTicks, ogttYTicks, hSaline, hSalineErr, hMetformin, hMetforminErr);
drawLinePanel('plot-i', { axisX: 1810, xEnd: 2399, xMax: 120, yMax: 400, yTop: 1674, y0: 2068, bottomW: 5.5, leftW: 5.5, tickY: 2112, xCharW: 17, yLabelDx: -17, yCharW: 17.3, salineShape: 'circle', metShape: 'square', redOnTop: false },
  ogttTimes, ogttXTicks, ogttYTicks, iSaline, iSalineErr, iMetformin, iMetforminErr);

drawLinePanel('plot-j', { axisX: 157, xEnd: 752.5, xMax: 60, yMax: 150, yTop: 2408.5, y0: 2806.5, bottomW: 4.5, leftW: 5, tickY: 2853, xCharW: 17, yLabelDx: -20, yCharW: 16.8, salineShape: 'circle', metShape: 'square', redOnTop: false },
  ittTimes, ittTimes, ittYTicks, jSaline, jSalineErr, jMetformin, jMetforminErr);
drawLinePanel('plot-k', { axisX: 1003, xEnd: 1597, xMax: 60, yMax: 150, yTop: 2410, y0: 2807, bottomW: 4.5, leftW: 5, tickY: 2853, xCharW: 17, yLabelDx: -18, yCharW: 17.3, salineShape: 'circle', metShape: 'square', redOnTop: false },
  ittTimes, ittTimes, ittYTicks, kSaline, kSalineErr, kMetformin, kMetforminErr);
drawLinePanel('plot-l', { axisX: 1810, xEnd: 2405, xMax: 60, yMax: 150, yTop: 2412, y0: 2809, bottomW: 6, leftW: 5, tickY: 2853, xCharW: 17.5, yLabelDx: -17, yCharW: 17.3, salineShape: 'circle', metShape: 'square', redOnTop: false },
  ittTimes, ittTimes, ittYTicks, lSaline, lSalineErr, lMetformin, lMetforminErr);
</script>
</body>
</html>
